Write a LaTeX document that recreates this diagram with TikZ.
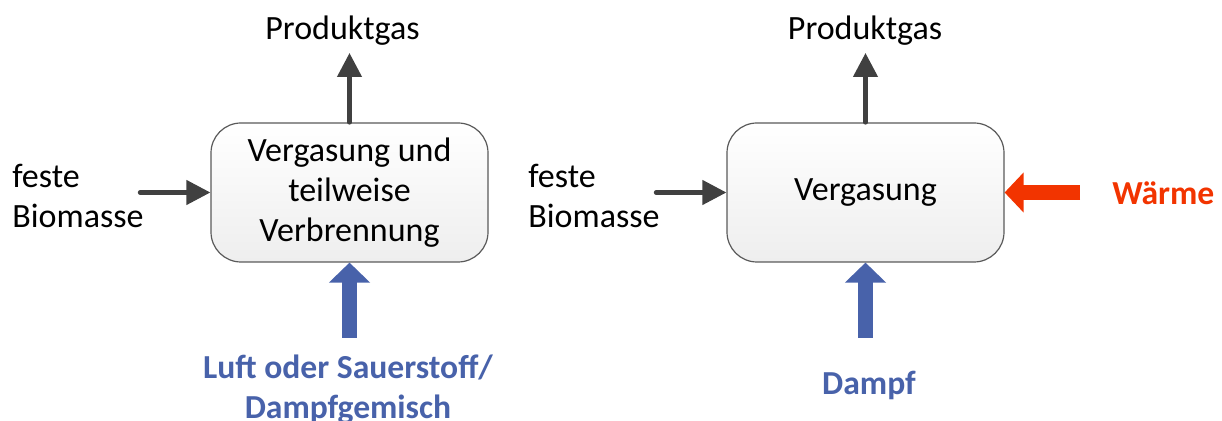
\documentclass[tikz,border=0pt]{standalone}
\usepackage{fontspec}
\setmainfont{Carlito}
\usetikzlibrary{arrows.meta}

\definecolor{boxline}{RGB}{90,90,90}
\definecolor{boxbottom}{RGB}{238,238,238}
\definecolor{flowgray}{RGB}{64,64,64}
\definecolor{feedblue}{RGB}{72,98,170}
\definecolor{heatred}{RGB}{242,52,0}

\tikzset{
  proc/.style={draw=boxline, line width=0.6pt, rounded corners=15pt,
    minimum width=138.5pt, minimum height=69.5pt, inner sep=0pt,
    top color=white, bottom color=boxbottom,
    align=center, font=\fontsize{17}{20}\selectfont},
  lbl/.style={inner sep=0pt, font=\fontsize{17}{20}\selectfont},
  bluelbl/.style={inner sep=0pt, text=feedblue, font=\fontsize{16.8}{20}\selectfont\bfseries},
  redlbl/.style={inner sep=0pt, text=heatred, font=\fontsize{16.8}{20}\selectfont\bfseries},
  flow/.style={draw=flowgray, line width=2.2pt, line cap=round,
    -{Triangle[width=12pt,length=12pt]}},
  feed/.style={draw=feedblue, line width=7.5pt,
    -{Triangle[width=20pt,length=10pt]}},
  heat/.style={draw=heatred, line width=7.5pt,
    -{Triangle[width=19.5pt,length=9.5pt]}},
}

\begin{document}
\begin{tikzpicture}[x=0.5pt,y=-0.5pt]
  \useasboundingbox (0,0) rectangle (1222,421);

  % left process: partial combustion gasifier
  \node[proc] (g1) at (349.5,192.5) {Vergasung und\\teilweise\\Verbrennung};
  \node[lbl, anchor=base] (p1) at (342.5,40) {Produktgas};
  \coordinate (t1) at (349.5,53);
  \node[lbl, anchor=west, align=left] (b1) at (12,195.5) {feste\\Biomasse};
  \coordinate (s1) at (140,192.5);
  \node[bluelbl, anchor=north, align=center] (l1) at (348,354) {Luft oder Sauerstoff/\\Dampfgemisch};
  \coordinate (a1) at (349.5,338);

  \draw[flow] (g1.north) -- (t1);
  \draw[flow] (s1) -- (g1.west);
  \draw[feed] (a1) -- (g1.south);

  % right process: allothermal gasifier
  \node[proc] (g2) at (865.5,192.5) {Vergasung};
  \node[lbl, anchor=base] (p2) at (865,40) {Produktgas};
  \coordinate (t2) at (865.5,53);
  \node[lbl, anchor=west, align=left] (b2) at (528,195.5) {feste\\Biomasse};
  \coordinate (s2) at (656,192.5);
  \node[bluelbl, anchor=base] (d2) at (869,395) {Dampf};
  \coordinate (a2) at (865.5,338);
  \node[redlbl, anchor=base west] (w2) at (1112,205) {Wärme};
  \coordinate (h2) at (1080,192.5);

  \draw[flow] (g2.north) -- (t2);
  \draw[flow] (s2) -- (g2.west);
  \draw[feed] (a2) -- (g2.south);
  \draw[heat] (h2) -- (g2.east);
\end{tikzpicture}
\end{document}
